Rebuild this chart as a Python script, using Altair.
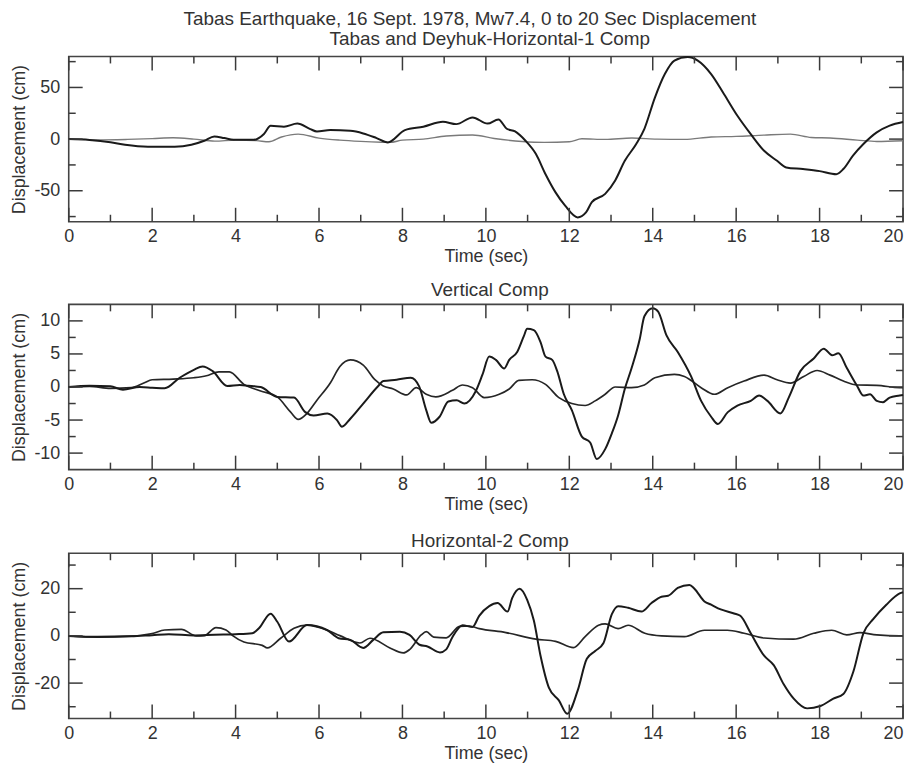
import altair as alt
import pandas as pd

FONT = "Liberation Sans"
TEXT = "#333333"
FRAME = "#444444"

MAIN_TITLE = "Tabas Earthquake, 16 Sept. 1978, Mw7.4, 0 to 20 Sec Displacement"
PANEL_TITLES = ["Tabas and Deyhuk-Horizontal-1 Comp", "Vertical Comp", "Horizontal-2 Comp"]
X_TITLE = "Time (sec)"
Y_TITLE = "Displacement (cm)"
STATIONS = ["Tabas", "Deyhuk"]

X_DOMAIN = [0, 20]
X_MAJOR = [0, 2, 4, 6, 8, 10, 12, 14, 16, 18, 20]
X_MINOR = [1, 3, 5, 7, 9, 11, 13, 15, 17, 19]

# ---- Panel 1: Horizontal-1 ----
H1_Y_DOMAIN = [-80, 80]
H1_Y_MAJOR = [-50, 0, 50]
H1_Y_MINOR = [-75, -25, 25, 75]
H1_TABAS_T = [0, 0.5, 1.0, 1.35, 1.9, 2.54, 2.94, 3.25, 3.49, 3.73, 3.95, 4.44, 4.68, 4.84, 5.16,
              5.48, 5.79, 5.95, 6.27, 6.75, 7.06, 7.38, 7.65, 8.06, 8.5, 8.97, 9.29, 9.68, 10.04, 10.3,
              10.5, 10.7, 10.95, 11.2, 11.43, 11.67, 11.9, 12.2, 12.4, 12.54, 12.86, 13.1, 13.33, 13.6, 13.8,
              14.05, 14.29, 14.52, 14.84, 15.08, 15.4, 15.71, 16.03, 16.35, 16.67, 16.98, 17.2, 17.6, 18.0, 18.4,
              18.57, 18.8, 19.05, 19.37, 19.68, 20.0]
H1_TABAS_D = [0, -0.8, -3.0, -5.5, -7.4, -7.4, -5.5, -1.6, 2.6, 1.0, -0.6, -0.6, 5.0, 12.9, 12.0,
              15.0, 9.7, 7.4, 8.7, 8.0, 5.5, 1.0, -3.2, 8.7, 12.0, 16.8, 14.5, 21.0, 15.0, 19.0,
              10.0, 7.4, -1.6, -14.5, -34.0, -51.6, -64.5, -75.8, -71.0, -61.0, -53.0, -40.0, -21.0, -5.0, 10.0,
              40.0, 63.0, 76.0, 79.5, 76.0, 63.0, 43.5, 22.6, 4.8, -11.3, -21.0, -27.4, -29.0, -31.0, -34.0,
              -29.0, -16.0, -4.8, 6.5, 13.0, 16.5]
H1_DEYHUK_T = [0, 0.7, 1.4, 2.0, 2.5, 3.0, 3.5, 4.0, 4.5, 4.8, 5.1, 5.5, 6.0, 6.5, 7.0,
               7.5, 7.7, 8.0, 8.5, 9.05, 9.68, 10.2, 10.87, 11.4, 12.0, 12.3, 12.86, 13.5, 14.1, 14.76,
               15.4, 16.0, 16.67, 17.3, 17.8, 18.25, 18.9, 19.37, 20.0]
H1_DEYHUK_D = [0, -0.8, -0.3, 0.5, 1.3, 0, -2.0, -1.0, -1.5, -2.6, 2.0, 4.8, 1.0, -1.0, -2.2,
               -3.0, -3.2, -1.0, 0, 3.0, 4.0, 0.6, -2.3, -3.2, -2.6, 0.3, -0.3, 1.0, 0, -0.3,
               2.0, 2.6, 3.9, 4.8, 1.6, 1.0, -1.0, -2.3, -1.6]

# ---- Panel 2: Vertical ----
V_Y_DOMAIN = [-12.5, 12.5]
V_Y_MAJOR = [-10, -5, 0, 5, 10]
V_Y_MINOR = [-7.5, -2.5, 2.5, 7.5]
V_TABAS_T = [0, 0.5, 1.0, 1.3, 1.7, 2.0, 2.3, 2.66, 3.0, 3.21, 3.45, 3.8, 4.1, 4.3, 4.6,
             5.0, 5.4, 5.67, 5.87, 6.2, 6.43, 6.55, 6.75, 7.06, 7.42, 7.54, 7.86, 8.2, 8.4, 8.57,
             8.69, 8.89, 9.1, 9.3, 9.48, 9.76, 9.92, 10.08, 10.24, 10.44, 10.56, 10.75, 10.91, 10.99, 11.15,
             11.31, 11.43, 11.59, 11.71, 11.87, 12.06, 12.3, 12.5, 12.66, 12.86, 13.02, 13.17, 13.33, 13.49, 13.69,
             13.8, 14.0, 14.13, 14.33, 14.6, 14.92, 15.16, 15.4, 15.56, 15.8, 16.03, 16.35, 16.55, 16.75, 17.06,
             17.26, 17.54, 17.86, 18.1, 18.3, 18.45, 18.65, 18.9, 19.05, 19.21, 19.37, 19.52, 19.68, 19.92, 20.0]
V_TABAS_D = [0, 0.2, 0.1, -0.4, 0, -0.1, -0.2, 1.4, 2.6, 3.1, 2.4, 0.15, 0.3, 0.2, 0,
             -1.5, -1.6, -3.8, -4.3, -4.0, -5.0, -6.0, -4.8, -2.5, 0.15, 0.9, 1.1, 1.4, 0.1, -3.5,
             -5.4, -4.5, -2.2, -2.0, -2.5, -0.6, 1.9, 4.6, 4.1, 2.8, 4.1, 5.3, 7.7, 8.8, 8.6,
             6.8, 4.6, 4.1, 2.4, -1.1, -3.5, -7.5, -8.4, -10.9, -9.4, -7.0, -4.3, -0.3, 2.8, 7.3,
             10.7, 11.9, 11.4, 7.8, 5.3, 1.6, -2.1, -4.5, -5.6, -3.8, -2.8, -2.1, -1.3, -2.1, -4.0,
             -1.6, 2.4, 4.3, 5.8, 4.8, 5.1, 2.9, 0.15, -1.3, -1.1, -2.1, -2.3, -1.6, -1.3, -1.2]
V_DEYHUK_T = [0, 0.5, 1.0, 1.5, 1.8, 2.0, 2.5, 3.0, 3.3, 3.6, 3.85, 4.2, 4.6, 5.0, 5.32,
              5.5, 5.71, 5.95, 6.27, 6.5, 6.75, 7.06, 7.34, 7.54, 7.78, 8.1, 8.33, 8.57, 8.8, 9.2,
              9.44, 9.68, 9.96, 10.32, 10.56, 10.79, 11.11, 11.43, 11.75, 12.06, 12.38, 12.62, 12.86, 13.1, 13.49,
              13.8, 14.05, 14.52, 14.76, 15.16, 15.48, 15.8, 16.19, 16.67, 16.98, 17.3, 17.62, 17.94, 18.25, 18.57,
              18.9, 19.37, 19.92, 20.0]
V_DEYHUK_D = [0, 0.1, -0.2, -0.1, 0.6, 1.1, 1.2, 1.4, 1.7, 2.3, 2.3, 0.4, -0.6, -1.5, -3.8,
              -4.9, -4.0, -2.0, 0.6, 3.1, 4.1, 3.3, 1.1, 0.15, -0.3, -1.2, -0.1, -1.1, -1.5, -0.5,
              0.3, -0.1, -1.6, -1.1, -0.3, 1.0, 1.1, 0.4, -1.6, -2.5, -2.8, -2.1, -1.1, 0, -0.1,
              0.3, 1.4, 1.9, 1.6, -0.1, -1.1, -0.1, 0.9, 1.8, 1.1, 0.6, 1.6, 2.5, 1.8, 0.9,
              0.3, 0.25, -0.1, -0.1]

# ---- Panel 3: Horizontal-2 ----
H2_Y_DOMAIN = [-35, 35]
H2_Y_MAJOR = [-20, 0, 20]
H2_Y_MINOR = [-30, -10, 10, 30]
H2_TABAS_T = [0, 0.7, 1.5, 2.0, 2.4, 3.0, 3.5, 4.0, 4.4, 4.56, 4.84, 5.0, 5.28, 5.71, 6.19,
              6.47, 6.75, 7.06, 7.3, 7.54, 7.94, 8.17, 8.41, 8.6, 8.9, 9.05, 9.2, 9.44, 9.68, 9.84,
              10.08, 10.28, 10.52, 10.63, 10.81, 10.99, 11.15, 11.31, 11.51, 11.75, 11.95, 12.2, 12.42, 12.62, 12.82,
              13.02, 13.17, 13.41, 13.73, 13.97, 14.21, 14.37, 14.6, 14.88, 15.0, 15.24, 15.4, 15.63, 15.95, 16.1,
              16.35, 16.67, 16.9, 17.14, 17.38, 17.7, 18.02, 18.33, 18.57, 18.81, 19.05, 19.29, 19.6, 19.92, 20.0]
H2_TABAS_D = [0, -0.4, -0.2, 0.3, 0.7, 0.2, 0.5, 0.7, 1.1, 3.2, 9.4, 6.0, -2.4, 4.6, 2.5,
              -1.0, -1.7, -5.1, -1.7, 1.5, 1.8, 0.4, -3.75, -4.5, -7.0, -5.7, -0.5, 4.5, 3.8, 8.5,
              12.6, 13.9, 10.3, 16.0, 20.0, 15.3, 6.5, -8.4, -21.9, -27.3, -33.0, -23.2, -9.7, -6.4, -3.0,
              9.2, 12.6, 11.9, 10.3, 13.9, 16.6, 17.0, 20.3, 21.6, 20.0, 14.6, 13.2, 11.2, 9.5, 8.5,
              1.1, -8.4, -12.4, -20.5, -26.6, -30.7, -29.7, -26.6, -24.6, -15.1, 1.1, 7.2, 13.2, 18.0, 18.5]
H2_DEYHUK_T = [0, 0.7, 1.5, 2.0, 2.3, 2.7, 3.06, 3.25, 3.53, 3.77, 3.93, 4.2, 4.64, 4.76, 5.08,
               5.4, 5.71, 6.19, 6.5, 6.98, 7.22, 7.7, 8.02, 8.17, 8.45, 8.57, 8.75, 9.05, 9.37, 9.6,
               9.84, 10.48, 11.2, 11.67, 12.1, 12.38, 12.7, 12.86, 13.17, 13.41, 13.81, 14.21, 14.76, 15.24, 15.79,
               16.19, 16.67, 17.38, 17.86, 18.29, 18.65, 18.97, 19.37, 19.92, 20.0]
H2_DEYHUK_D = [0, -0.5, -0.1, 1.0, 2.5, 2.8, 0, 0.1, 3.5, 2.5, 0.1, -2.6, -4.0, -5.1, -1.0,
               3.2, 4.6, 2.5, 0.1, -3.0, -1.0, -5.1, -7.2, -5.8, 0.4, 1.8, -0.5, -0.8, 4.0, 4.2,
               3.1, 1.4, -1.4, -2.3, -5.0, -0.3, 4.5, 5.1, 3.1, 4.5, 1.1, 0, -0.3, 2.4, 2.4,
               1.1, -0.9, -1.4, 1.1, 2.4, 0.4, 1.4, 0.4, 0, 0]

W = 838
H = 166
MAJOR_LEN = 14
MINOR_LEN = 7
TICK_COLOR = "#3a3a3a"
TITLE_FS = 19
AXIS_FS = 18
LAST_X = X_MAJOR[-1]


def panel(title, tabas_t, tabas_d, deyhuk_t, deyhuk_d, y_domain, y_major, y_minor,
          deyhuk_color, deyhuk_width, title_offset):
    x_enc = alt.X("t:Q", scale=alt.Scale(domain=X_DOMAIN, nice=False, zero=False),
                  axis=alt.Axis(values=X_MAJOR, title=X_TITLE, ticks=False, domain=False, grid=False,
                                labelFlush=False, labelPadding=6, titlePadding=2,
                                labelAlign={"condition": {"test": f"datum.value == {LAST_X}",
                                                          "value": "right"},
                                            "value": "center"},
                                labelExpr="datum.value + ''"))
    y_enc = alt.Y("d:Q", scale=alt.Scale(domain=y_domain, nice=False, zero=False),
                  axis=alt.Axis(values=y_major, title=Y_TITLE, ticks=False, domain=False, grid=False,
                                labelPadding=9, titlePadding=5,
                                labelExpr="datum.value + ''"))

    tabas = pd.DataFrame({"t": tabas_t, "d": tabas_d, "station": STATIONS[0]})
    deyhuk = pd.DataFrame({"t": deyhuk_t, "d": deyhuk_d, "station": STATIONS[1]})
    layers = [
        alt.Chart(deyhuk).mark_line(interpolate="monotone", color=deyhuk_color,
                                    strokeWidth=deyhuk_width).encode(x=x_enc, y=y_enc),
        alt.Chart(tabas).mark_line(interpolate="monotone", color="#1a1a1a",
                                   strokeWidth=2.0).encode(x=x_enc, y=y_enc),
    ]
    for vals, length in [(X_MAJOR, MAJOR_LEN), (X_MINOR, MINOR_LEN)]:
        df = pd.DataFrame({"t": vals})
        layers.append(alt.Chart(df).mark_rule(color=TICK_COLOR, strokeWidth=1.5).encode(
            x=x_enc, y=alt.value(0), y2=alt.value(length)))
        layers.append(alt.Chart(df).mark_rule(color=TICK_COLOR, strokeWidth=1.5).encode(
            x=x_enc, y=alt.value(H), y2=alt.value(H - length)))
    for vals, length in [(y_major, MAJOR_LEN), (y_minor, MINOR_LEN)]:
        df = pd.DataFrame({"d": vals})
        layers.append(alt.Chart(df).mark_rule(color=TICK_COLOR, strokeWidth=1.5).encode(
            y=y_enc, x=alt.value(0), x2=alt.value(length)))
        layers.append(alt.Chart(df).mark_rule(color=TICK_COLOR, strokeWidth=1.5).encode(
            y=y_enc, x=alt.value(W), x2=alt.value(W - length)))

    return alt.layer(*layers).properties(
        width=W, height=H,
        title=alt.TitleParams(title, fontSize=TITLE_FS, fontWeight="normal", font=FONT, color=TEXT,
                              anchor="middle", offset=title_offset, dx=4),
    )


p1 = panel(PANEL_TITLES[0], H1_TABAS_T, H1_TABAS_D, H1_DEYHUK_T, H1_DEYHUK_D,
           H1_Y_DOMAIN, H1_Y_MAJOR, H1_Y_MINOR, "#7a7a7a", 1.4, 4)
p2 = panel(PANEL_TITLES[1], V_TABAS_T, V_TABAS_D, V_DEYHUK_T, V_DEYHUK_D,
           V_Y_DOMAIN, V_Y_MAJOR, V_Y_MINOR, "#262626", 1.7, 4)
p3 = panel(PANEL_TITLES[2], H2_TABAS_T, H2_TABAS_D, H2_DEYHUK_T, H2_DEYHUK_D,
           H2_Y_DOMAIN, H2_Y_MAJOR, H2_Y_MINOR, "#262626", 1.7, 2)

upper = alt.vconcat(p1, p2, spacing=13)
chart = alt.vconcat(
    upper, p3, spacing=16,
    title=alt.TitleParams(MAIN_TITLE, fontSize=TITLE_FS, fontWeight="normal", font=FONT, color=TEXT,
                          anchor="middle", offset=0, dx=11),
).properties(
    padding={"left": 2, "right": 0, "top": 0, "bottom": 0},
).configure_view(
    stroke=FRAME, strokeWidth=1.6,
).configure_axis(
    labelFont=FONT, labelFontSize=AXIS_FS, labelColor=TEXT,
    titleFont=FONT, titleFontSize=AXIS_FS, titleFontWeight="normal", titleColor=TEXT,
)

chart.save("out.html", embed_options={"renderer": "svg", "actions": False})
